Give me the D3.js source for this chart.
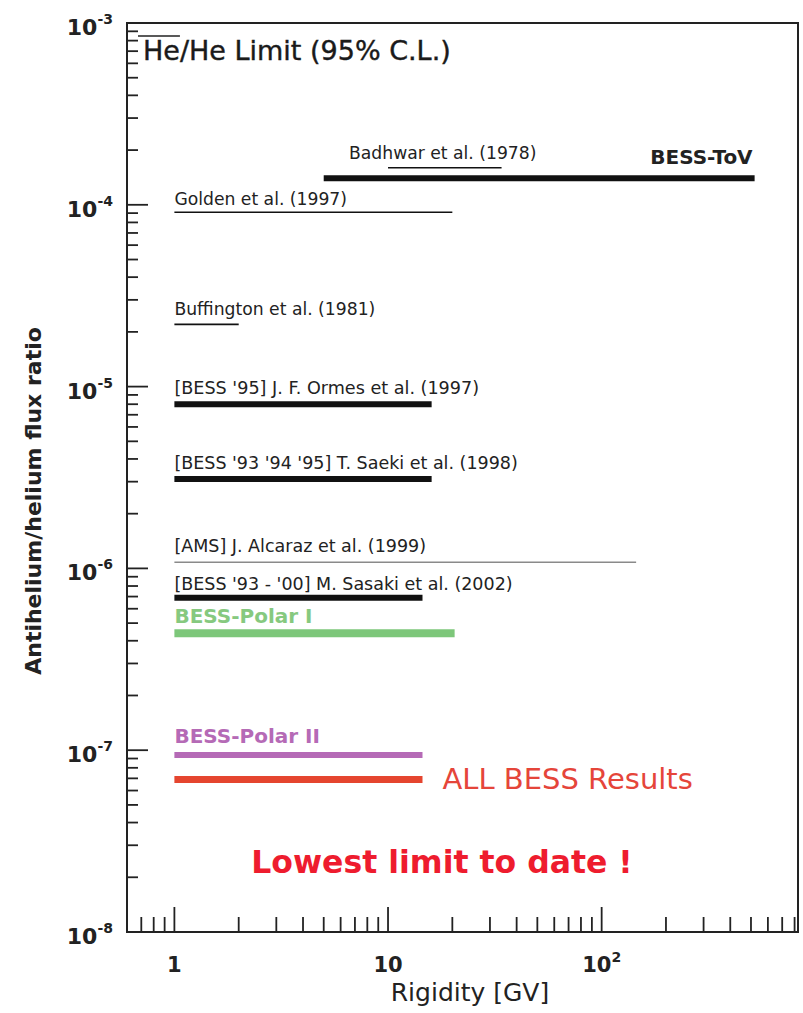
<!DOCTYPE html>
<html>
<head>
<meta charset="utf-8">
<script src="https://cdn.jsdelivr.net/npm/d3@7"></script>
<style>
  body { margin: 0; background: #fff; }
  svg { display: block; font-family: "DejaVu Sans", "Liberation Sans", sans-serif; }
</style>
</head>
<body>
<svg id="chart" width="803" height="1013"></svg>
<script>
// limits on antihelium/helium ratio, rigidity range in GV
var names = ["BESS-ToV", "Badhwar et al. (1978)", "Golden et al. (1997)", "Buffington et al. (1981)",
	"[BESS '95] J. F. Ormes et al. (1997)", "[BESS '93 '94 '95] T. Saeki et al. (1998)",
	"[AMS] J. Alcaraz et al. (1999)", "[BESS '93 - '00] M. Sasaki et al. (2002)",
	"BESS-Polar I", "BESS-Polar II", "ALL BESS Results"];
var rigMin = [5, 10, 1, 1, 1, 1, 1, 1, 1, 1, 1];
var rigMax = [520, 34, 20, 2, 16, 16, 145, 14.5, 20.5, 14.5, 14.5];
var ratio = [1.4e-4, 1.6e-4, 9.1e-5, 2.2e-5, 8.0e-6, 3.1e-6, 1.08e-6, 6.9e-7, 4.4e-7, 9.4e-8, 6.9e-8];

var xDomain = [0.6, 830];
var yDomain = [1e-8, 1e-3];
var xMajor = [1, 10, 100];
var xMajorLabels = [["1", ""], ["10", ""], ["10", "2"]];
var yMajor = [1e-3, 1e-4, 1e-5, 1e-6, 1e-7, 1e-8];
var yMajorLabels = ["-3", "-4", "-5", "-6", "-7", "-8"];

// styles (kept apart from the data)
var BLACK = "#111";
var style = {
	"BESS-ToV":               { w: 6, c: BLACK, lc: "#222", fs: 20, fw: "bold", anchor: "end", lx: "end", dy: -14 },
	"Badhwar et al. (1978)":  { w: 1.6, c: BLACK, lc: "#222", fs: 17.2, anchor: "start", lx: 349, dy: -9 },
	"Golden et al. (1997)":   { w: 1.6, c: BLACK, lc: "#222", fs: 17.2, anchor: "start", lx: "start", dy: -7 },
	"Buffington et al. (1981)": { w: 1.6, c: BLACK, lc: "#222", fs: 17.2, anchor: "start", lx: "start", dy: -9 },
	"[BESS '95] J. F. Ormes et al. (1997)": { w: 6, c: BLACK, lc: "#222", fs: 17.6, anchor: "start", lx: "start", dy: -10 },
	"[BESS '93 '94 '95] T. Saeki et al. (1998)": { w: 6, c: BLACK, lc: "#222", fs: 17.5, anchor: "start", lx: "start", dy: -10 },
	"[AMS] J. Alcaraz et al. (1999)": { w: 1.5, c: "#8a8a8a", lc: "#222", fs: 17.5, anchor: "start", lx: "start", dy: -10 },
	"[BESS '93 - '00] M. Sasaki et al. (2002)": { w: 6, c: BLACK, lc: "#222", fs: 17.5, anchor: "start", lx: "start", dy: -8 },
	"BESS-Polar I":  { w: 8, c: "#7dc77a", lc: "#86c97f", fs: 20, fw: "bold", anchor: "start", lx: "start", dy: -10 },
	"BESS-Polar II": { w: 6, c: "#b56ab6", lc: "#b56ab6", fs: 20, fw: "bold", anchor: "start", lx: "start", dy: -12 },
	"ALL BESS Results": { w: 7, c: "#e5452f", lc: "#e5453a", fs: 29, anchor: "start", lx: "after", dy: 10 }
};

var svg = d3.select("#chart");
var pLeft = 127, pRight = 798, pTop = 23, pBottom = 932;

var x = d3.scaleLog().domain(xDomain).range([pLeft, pRight]);
var y = d3.scaleLog().domain(yDomain).range([pBottom, pTop]);

// minor ticks
var xMinor = [];
[0.1, 1, 10, 100].forEach(function(dec) {
	for (var k = 2; k <= 9; k++) {
		var v = dec * k;
		if (v > xDomain[0] && v < xDomain[1]) xMinor.push(v);
	}
});
var yMinor = [];
[1e-8, 1e-7, 1e-6, 1e-5, 1e-4].forEach(function(dec) {
	for (var k = 2; k <= 9; k++) yMinor.push(dec * k);
});

var axisG = svg.append("g").attr("stroke", "#222");

axisG.selectAll(".xminor").data(xMinor).enter().append("line")
	.attr("x1", function(d) { return x(d); }).attr("x2", function(d) { return x(d); })
	.attr("y1", pBottom).attr("y2", pBottom - 15).attr("stroke-width", 1.8);
axisG.selectAll(".xmajor").data(xMajor).enter().append("line")
	.attr("x1", function(d) { return x(d); }).attr("x2", function(d) { return x(d); })
	.attr("y1", pBottom).attr("y2", pBottom - 25).attr("stroke-width", 1.8);
axisG.selectAll(".yminor").data(yMinor).enter().append("line")
	.attr("y1", function(d) { return y(d); }).attr("y2", function(d) { return y(d); })
	.attr("x1", pLeft).attr("x2", pLeft + 11).attr("stroke-width", 1.8);
axisG.selectAll(".ymajor").data(yMajor).enter().append("line")
	.attr("y1", function(d) { return y(d); }).attr("y2", function(d) { return y(d); })
	.attr("x1", pLeft).attr("x2", pLeft + 21).attr("stroke-width", 1.8);

// frame
svg.append("rect")
	.attr("x", pLeft).attr("y", pTop)
	.attr("width", pRight - pLeft).attr("height", pBottom - pTop)
	.attr("fill", "none").attr("stroke", "#222").attr("stroke-width", 2);

// y tick labels
var yl = svg.selectAll(".ylab").data(yMajor).enter().append("text")
	.attr("text-anchor", "end")
	.attr("x", 113)
	.attr("y", function(d) { return y(d) + 12; })
	.attr("font-size", 22).attr("font-weight", "bold").attr("fill", "#222");
yl.append("tspan").text("10");
yl.append("tspan").attr("dy", -11).attr("font-size", 14)
	.text(function(d, i) { return yMajorLabels[i]; });

// x tick labels
var xl = svg.selectAll(".xlab").data(xMajor).enter().append("text")
	.attr("text-anchor", "middle")
	.attr("x", function(d) { return x(d); })
	.attr("y", 972)
	.attr("font-size", 21).attr("font-weight", "bold").attr("fill", "#222");
xl.append("tspan").text(function(d, i) { return xMajorLabels[i][0]; });
xl.append("tspan").attr("dy", -10).attr("font-size", 14)
	.text(function(d, i) { return xMajorLabels[i][1]; });

// axis titles
svg.append("text")
	.attr("x", 470).attr("y", 1001)
	.attr("text-anchor", "middle")
	.attr("font-size", 25).attr("fill", "#222")
	.text("Rigidity [GV]");

svg.append("text")
	.attr("transform", "translate(41,501) rotate(-90)")
	.attr("text-anchor", "middle")
	.attr("font-size", 22).attr("font-weight", "bold").attr("fill", "#222")
	.text("Antihelium/helium flux ratio");

// title with overline on antihelium
var title = svg.append("text")
	.attr("x", 143).attr("y", 60)
	.attr("font-size", 27).attr("fill", "#1a1a1a")
	.attr("stroke", "#1a1a1a").attr("stroke-width", 0.4)
	.text("He/He Limit (95% C.L.)");
var heW = title.node().getSubStringLength(0, 2);
svg.append("line")
	.attr("x1", 138).attr("x2", 143 + heW)
	.attr("y1", 36).attr("y2", 36)
	.attr("stroke", "#222").attr("stroke-width", 1.6);

// limit bars
var rows = names.map(function(n, i) {
	return { name: n, lo: rigMin[i], hi: rigMax[i], v: ratio[i] };
});

svg.append("g").selectAll("line").data(rows).enter().append("line")
	.attr("x1", function(d) { return x(d.lo); })
	.attr("x2", function(d) { return x(d.hi); })
	.attr("y1", function(d) { return y(d.v); })
	.attr("y2", function(d) { return y(d.v); })
	.attr("stroke", function(d) { return style[d.name].c; })
	.attr("stroke-width", function(d) { return style[d.name].w; });

svg.append("g").selectAll("text").data(rows).enter().append("text")
	.attr("x", function(d) {
		var s = style[d.name];
		if (s.lx === "start") return x(d.lo);
		if (s.lx === "end") return x(d.hi) - 2;
		if (s.lx === "after") return x(d.hi) + 20;
		return s.lx;
	})
	.attr("y", function(d) { return y(d.v) + style[d.name].dy; })
	.attr("text-anchor", function(d) { return style[d.name].anchor; })
	.attr("font-size", function(d) { return style[d.name].fs; })
	.attr("font-weight", function(d) { return style[d.name].fw || "normal"; })
	.attr("fill", function(d) { return style[d.name].lc; })
	.text(function(d) { return d.name; });

svg.append("text")
	.attr("x", 442).attr("y", 873)
	.attr("text-anchor", "middle")
	.attr("font-size", 31.5).attr("font-weight", "bold").attr("fill", "#ee1c2e")
	.text("Lowest limit to date !");
</script>
</body>
</html>
